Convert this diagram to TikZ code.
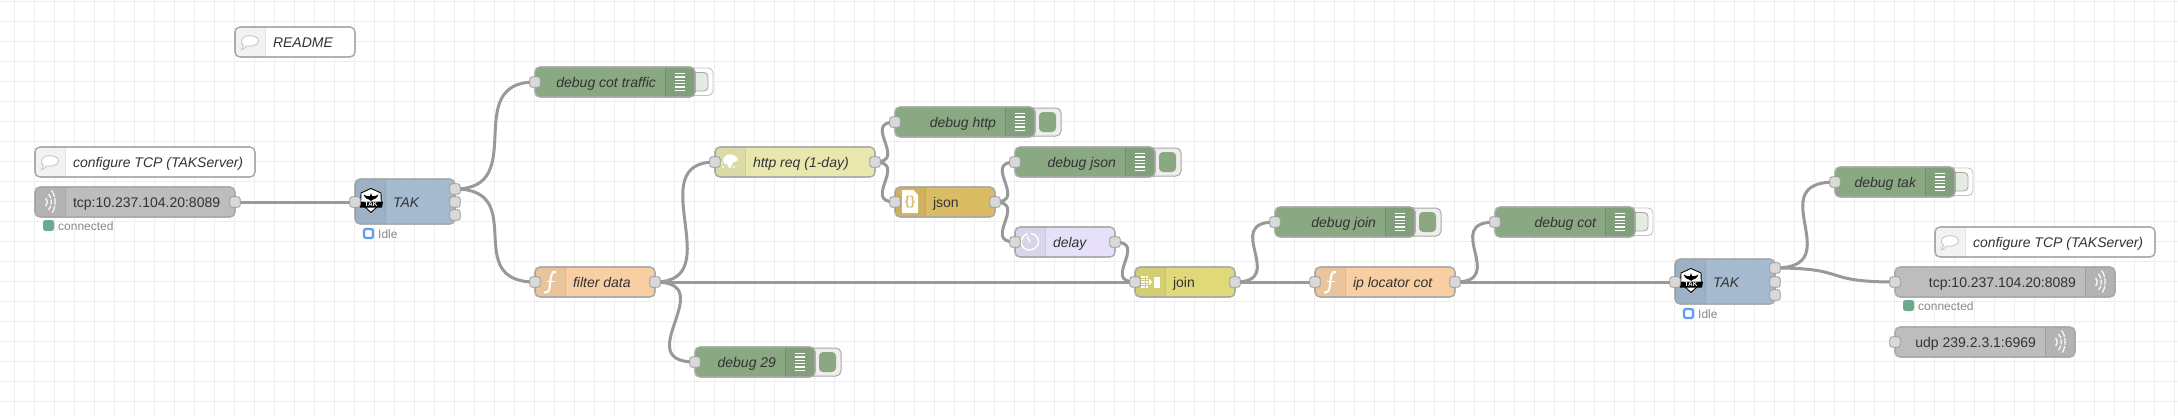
\documentclass[tikz,border=0pt]{standalone}
\usepackage{fontspec}
\setmainfont{Liberation Sans}
\definecolor{gridc}{HTML}{EEEEEE}
\definecolor{wirec}{HTML}{999999}
\definecolor{edgec}{HTML}{A8A8A8}
\definecolor{portc}{HTML}{D9D9D9}
\definecolor{txt}{HTML}{333333}
\definecolor{stat}{HTML}{888888}
\definecolor{dbg}{HTML}{8AA882}
\definecolor{func}{HTML}{F7CFA3}
\definecolor{cmt}{HTML}{FFFFFF}
\definecolor{tcp}{HTML}{BDBDBD}
\definecolor{tak}{HTML}{A6BBCF}
\definecolor{http}{HTML}{E7E7AE}
\definecolor{jsn}{HTML}{DABC64}
\definecolor{dly}{HTML}{E6E0F8}
\definecolor{jn}{HTML}{DFD97A}
\definecolor{okc}{HTML}{6BAB8C}
\definecolor{idlec}{HTML}{5B9DF2}
\definecolor{btnlight}{HTML}{E4EBE0}
\pgfdeclarelayer{gridlayer}
\pgfdeclarelayer{wires}
\pgfsetlayers{gridlayer,wires,main}
\tikzset{
  flowbox/.style={draw=edgec,line width=1.1pt,rounded corners=5pt,inner sep=0pt,outer sep=0pt},
  port/.style={draw=wirec,line width=0.8pt,fill=portc,rounded corners=2.5pt,minimum size=10.5pt,inner sep=0pt,outer sep=0pt},
  wirestyle/.style={draw=wirec,line width=3pt,line cap=round},
  lbl/.style={font=\fontsize{14}{16}\selectfont,text=txt,inner sep=0pt,outer sep=0pt},
  ital/.style={font=\fontsize{14}{16}\selectfont\itshape},
  statlbl/.style={font=\fontsize{12}{14}\selectfont,text=stat,inner sep=0pt,anchor=base west},
  okdot/.style={fill=okc,rounded corners=2.5pt,minimum size=11pt,inner sep=0pt},
  idledot/.style={draw=idlec,line width=2.2pt,fill=white,rounded corners=2pt,minimum size=9pt,inner sep=0pt},
  iconw/.style={draw=white,line width=1.5pt},
}
% name x0 y0 x1 y1 stripstart stripend fill
\newcommand\flownode[8]{%
  \pgfmathsetmacro\fnw{#4-#2}\pgfmathsetmacro\fnh{#5-#3}%
  \pgfmathsetmacro\fnx{(#2+#4)/2}\pgfmathsetmacro\fny{(#3+#5)/2}%
  \node[flowbox,fill=#8,minimum width=\fnw pt,minimum height=\fnh pt] (#1) at (\fnx,\fny) {};
  \begin{scope}
    \clip[rounded corners=5pt] (#2,#3) rectangle (#4,#5);
    \fill[black,opacity=.05] (#6,#3) rectangle (#7,#5);
    \draw[black,opacity=.10,line width=1pt] (#6,#3) -- (#6,#5) (#7,#3) -- (#7,#5);
  \end{scope}
  \draw[edgec,line width=1.1pt,rounded corners=5pt] (#2,#3) rectangle (#4,#5);
}
\newcommand\btnon[3]{% name x1 y0
  \pgfmathsetmacro\ba{#2-8}\pgfmathsetmacro\bb{#2+26}\pgfmathsetmacro\bc{#3+1}\pgfmathsetmacro\bd{#3+29}%
  \pgfmathsetmacro\be{#2+4}\pgfmathsetmacro\bf{#2+21}\pgfmathsetmacro\bg{#3+5}\pgfmathsetmacro\bh{#3+25}%
  \draw[draw=edgec,fill=gridc,line width=1pt,rounded corners=5pt] (\ba,\bc) rectangle (\bb,\bd);
  \fill[dbg,rounded corners=4pt] (\be,\bg) rectangle (\bf,\bh);
}
\newcommand\btnoff[3]{%
  \pgfmathsetmacro\ba{#2-8}\pgfmathsetmacro\bb{#2+18}\pgfmathsetmacro\bc{#3+1}\pgfmathsetmacro\bd{#3+28.5}%
  \pgfmathsetmacro\bf{#2+13}\pgfmathsetmacro\bg{#3+5.5}\pgfmathsetmacro\bh{#3+24}%
  \draw[draw=edgec!70,fill=white,line width=.9pt,rounded corners=5pt] (\ba,\bc) rectangle (\bb,\bd);
  \draw[draw=edgec,fill=btnlight,line width=.9pt,rounded corners=4pt] (\ba,\bg) rectangle (\bf,\bh);
}
\newcommand\wire[3]{\begin{pgfonlayer}{wires}\draw[wirestyle] (#1.center) .. controls +(#3,0) and +(-#3,0) .. (#2.center);\end{pgfonlayer}}
\newcommand\lines[2]{\begin{scope}[shift={(#1,#2)}]
  \foreach \ly in {-8.5,-5.1,-1.7,1.7,5.1,8.5} \draw[white,line width=1.4pt] (-5,\ly) -- (5,\ly);
\end{scope}}
\newcommand\bubble[2]{\begin{scope}[shift={(#1,#2)}]
  \draw[draw=black!22,fill=white,line width=.9pt] (-8.5,-1) .. controls (-8.5,-8) and (8.5,-8) .. (8.5,-1) .. controls (8.5,3.5) and (0,5) .. (-3.5,4) .. controls (-5,6) and (-7,7.5) .. (-8.5,8) .. controls (-7.5,6.5) and (-7,5) .. (-6.5,3.2) .. controls (-7.8,2.5) and (-8.5,1) .. (-8.5,-1) -- cycle;
\end{scope}}
\newcommand\wifi[2]{\begin{scope}[shift={(#1,#2)}]
  \draw[white,line width=1.3pt,opacity=.9,dash pattern=on 7pt off 1.2pt] (1.5,-11.5) .. controls (6.3,-6) and (6.3,6) .. (1.5,11.5);
  \draw[white,line width=1.3pt,opacity=.9,dash pattern=on 5pt off 1.2pt] (-1.5,-8) .. controls (2.3,-4) and (2.3,4) .. (-1.5,8);
  \draw[white,line width=1.3pt,opacity=.9] (-4.5,-4) .. controls (-2.3,-2) and (-2.3,2) .. (-4.5,4);
\end{scope}}
\newcommand\ficon[2]{\begin{scope}[shift={(#1,#2)}]
  \draw[white,line width=2pt] (6,-10) .. controls (1.5,-11.5) and (1,-6) .. (0.3,0) .. controls (-0.3,5) and (0,11.5) .. (-6,10.5);
  \draw[white,line width=1.6pt] (-3.5,-0.5) -- (4.5,-0.5);
\end{scope}}
\newcommand\takicon[2]{\begin{scope}[shift={(#1,#2)}]
  \draw[draw=black,fill=white,line width=.9pt,line join=round] (0,-12.5) -- (10,-8) -- (10.3,2) -- (0,11.5) -- (-10.3,2) -- (-10,-8) -- cycle;
  \fill[black] (-7.5,-6.5) .. controls (-4,-4.5) and (-2,-4.5) .. (-1,-5) -- (0,-8) -- (1,-5) .. controls (2,-4.5) and (4,-4.5) .. (7.5,-6.5) .. controls (6,-2.5) and (3,-1.5) .. (1,-1) -- (0,0) -- (-1,-1) .. controls (-3,-1.5) and (-6,-2.5) .. (-7.5,-6.5) -- cycle;
  \fill[black] (-12,0.5) -- (12,0.5) -- (11,6.5) -- (-11,6.5) -- cycle;
  \node[text=white,inner sep=0pt,font=\fontsize{6.5}{7}\selectfont\bfseries] (takname#1) at (0,3.5) {TAK};
\end{scope}}
\newcommand\globe[2]{\begin{scope}[shift={(#1,#2)}]
  \fill[white] (-3,-7) .. controls (2,-9) and (7,-6) .. (8,-2) .. controls (6,-1.5) and (5,1) .. (3,0.5) .. controls (2.5,3) and (0,7) .. (-1,6) .. controls (-1.5,3) and (-3,1.5) .. (-6,1) .. controls (-8,-2) and (-6,-5.5) .. (-3,-7) -- cycle;
  \fill[white] (-9,1.5) circle (1) (-7,5) circle (1.2) (4,5) circle (1.2);
\end{scope}}
\newcommand\jsonicon[2]{\begin{scope}[shift={(#1,#2)}]
  \fill[white] (-8,-12) -- (3.5,-12) -- (8,-7) -- (8,11) -- (-8,11) -- cycle;
  \node[text=jsn,inner sep=0pt,font=\fontsize{13}{14}\selectfont\bfseries] (jsonbraces) at (0,0) {\{\}};
\end{scope}}
\newcommand\clockicon[2]{\begin{scope}[shift={(#1,#2)}]
  \draw[white,line width=1.4pt] (-2.5,-8.2) .. controls (-9,-6.5) and (-11,2) .. (-6,6.2) .. controls (-1,10.5) and (8.5,7) .. (8.5,-0.3) .. controls (8.5,-4.5) and (5.5,-8) .. (1,-8.5);
  \draw[white,line width=1.4pt] (0,0) -- (-3,-5.5);
\end{scope}}
\newcommand\joinicon[2]{\begin{scope}[shift={(#1,#2)}]
  \foreach \dx in {-8.3,-5.8,-3.3} \foreach \dy in {-5,-2.5,0,2.5,5} \fill[white] (\dx-0.8,\dy-0.8) rectangle (\dx+0.8,\dy+0.8);
  \fill[white] (-1,-3.5) -- (2.2,0) -- (-1,3.5) -- cycle;
  \fill[white] (4,-5.5) rectangle (10,5.5);
\end{scope}}
\begin{document}
\begin{tikzpicture}[x=1pt,y=-1pt]
\useasboundingbox (0,0) rectangle (2178,416);
\begin{pgfonlayer}{gridlayer}
  \fill[white] (0,0) rectangle (2178,416);
  \foreach \gx in {0,...,108} \draw[gridc,line width=1pt] ({14+20*\gx},0) -- ({14+20*\gx},416);
  \foreach \gy in {0,...,20} \draw[gridc,line width=1pt] (0,{1.7+20*\gy}) -- (2178,{1.7+20*\gy});
\end{pgfonlayer}

% comments
\flownode{readme}{235}{27}{355}{57}{235}{265}{cmt}
\bubble{250}{42}
\node[lbl,ital,anchor=base west] (readmet) at (273,47) {README};
\flownode{cfga}{35}{147}{255}{177}{35}{65}{cmt}
\bubble{50}{162}
\node[lbl,ital,anchor=base west] (cfgat) at (73,167) {configure TCP (TAKServer)};
\flownode{cfgb}{1935}{227}{2155}{257}{1935}{1965}{cmt}
\bubble{1950}{242}
\node[lbl,ital,anchor=base west] (cfgbt) at (1973,247) {configure TCP (TAKServer)};

% tcp in
\flownode{tcpa}{35}{187}{235}{217}{35}{65}{tcp}
\wifi{50}{202}
\node[lbl,anchor=base west] (tcpat) at (73,207) {tcp:10.237.104.20:8089};
\node[okdot] (tcpas) at (48.5,225.5) {};
\node[statlbl] (tcpast) at (58,230) {connected};

% TAK 1
\flownode{taka}{355}{179}{455}{224}{355}{385}{tak}
\takicon{371}{201}
\node[lbl,ital,anchor=base west] (takat) at (393,207) {TAK};
\node[idledot] (takas) at (368.5,233.5) {};
\node[statlbl] (takast) at (378,238) {Idle};

% debug cot traffic
\btnoff{dba}{695}{67}
\flownode{dbcot}{535}{67}{695}{97}{665}{695}{dbg}
\lines{680}{82}
\node[lbl,ital,anchor=base east] (dbcott) at (656,87) {debug cot traffic};

% filter
\flownode{filter}{535}{267}{655}{297}{535}{565}{func}
\ficon{550}{282}
\node[lbl,ital,anchor=base west] (filtert) at (573,287) {filter data};

% http
\flownode{httpr}{715}{147}{875}{177}{715}{745}{http}
\globe{730}{162}
\node[lbl,ital,anchor=base west] (httprt) at (753,167) {http req (1-day)};

% debug http
\btnon{dbb}{1035}{107}
\flownode{dbhttp}{895}{107}{1035}{137}{1005}{1035}{dbg}
\lines{1020}{122}
\node[lbl,ital,anchor=base east] (dbhttpt) at (996,127) {debug http};

% json
\flownode{jsonn}{895}{187}{995}{217}{895}{925}{jsn}
\jsonicon{910}{202}
\node[lbl,anchor=base west] (jsonnt) at (933,207) {json};

% debug 29
\btnon{dbc}{815}{347}
\flownode{db29}{695}{347}{815}{377}{785}{815}{dbg}
\lines{800}{362}
\node[lbl,ital,anchor=base east] (db29t) at (776,367) {debug 29};

% debug json
\btnon{dbd}{1155}{147}
\flownode{dbjson}{1015}{147}{1155}{177}{1125}{1155}{dbg}
\lines{1140}{162}
\node[lbl,ital,anchor=base east] (dbjsont) at (1116,167) {debug json};

% delay
\flownode{delay}{1015}{227}{1115}{257}{1015}{1045}{dly}
\clockicon{1030}{242}
\node[lbl,ital,anchor=base west] (delayt) at (1053,247) {delay};

% join
\flownode{joinn}{1135}{267}{1235}{297}{1135}{1165}{jn}
\joinicon{1150}{282}
\node[lbl,anchor=base west] (joinnt) at (1173,287) {join};

% debug join
\btnon{dbe}{1415}{207}
\flownode{dbjoin}{1275}{207}{1415}{237}{1385}{1415}{dbg}
\lines{1400}{222}
\node[lbl,ital,anchor=base east] (dbjoint) at (1376,227) {debug join};

% ip locator
\flownode{iploc}{1315}{267}{1455}{297}{1315}{1345}{func}
\ficon{1330}{282}
\node[lbl,ital,anchor=base west] (iploct) at (1353,287) {ip locator cot};

% debug cot
\btnoff{dbf}{1635}{207}
\flownode{dbcotb}{1495}{207}{1635}{237}{1605}{1635}{dbg}
\lines{1620}{222}
\node[lbl,ital,anchor=base east] (dbcotbt) at (1596,227) {debug cot};

% TAK 2
\flownode{takb}{1675}{259}{1775}{304}{1675}{1705}{tak}
\takicon{1691}{281}
\node[lbl,ital,anchor=base west] (takbt) at (1713,287) {TAK};
\node[idledot] (takbs) at (1688.5,313.5) {};
\node[statlbl] (takbst) at (1698,318) {Idle};

% debug tak
\btnoff{dbg}{1955}{167}
\flownode{dbtak}{1835}{167}{1955}{197}{1925}{1955}{dbg}
\lines{1940}{182}
\node[lbl,ital,anchor=base east] (dbtakt) at (1916,187) {debug tak};

% tcp out
\flownode{tcpb}{1895}{267}{2115}{297}{2085}{2115}{tcp}
\wifi{2100}{282}
\node[lbl,anchor=base east] (tcpbt) at (2076,287) {tcp:10.237.104.20:8089};
\node[okdot] (tcpbs) at (1908.5,305.5) {};
\node[statlbl] (tcpbst) at (1918,310) {connected};

% udp out
\flownode{udp}{1895}{327}{2075}{357}{2045}{2075}{tcp}
\wifi{2060}{342}
\node[lbl,anchor=base east] (udpt) at (2036,347) {udp 239.2.3.1:6969};

% ports
\node[port] (pTcpaO) at (235,202) {};
\node[port] (pTakaI) at (355,202) {};
\node[port] (pTakaA) at (455,189) {};
\node[port] (pTakaB) at (455,202) {};
\node[port] (pTakaC) at (455,215) {};
\node[port] (pDbcot) at (535,82) {};
\node[port] (pFiltI) at (535,282) {};
\node[port] (pFiltO) at (655,282) {};
\node[port] (pHttpI) at (715,162) {};
\node[port] (pHttpO) at (875,162) {};
\node[port] (pDb29) at (695,362) {};
\node[port] (pDbhttp) at (895,122) {};
\node[port] (pJsonI) at (895,202) {};
\node[port] (pJsonO) at (995,202) {};
\node[port] (pDbjson) at (1015,162) {};
\node[port] (pDelayI) at (1015,242) {};
\node[port] (pDelayO) at (1115,242) {};
\node[port] (pJoinI) at (1135,282) {};
\node[port] (pJoinO) at (1235,282) {};
\node[port] (pDbjoin) at (1275,222) {};
\node[port] (pIpI) at (1315,282) {};
\node[port] (pIpO) at (1455,282) {};
\node[port] (pDbcotb) at (1495,222) {};
\node[port] (pTakbI) at (1675,282) {};
\node[port] (pTakbA) at (1775,268) {};
\node[port] (pTakbB) at (1775,282) {};
\node[port] (pTakbC) at (1775,295) {};
\node[port] (pDbtak) at (1835,182) {};
\node[port] (pTcpbI) at (1895,282) {};
\node[port] (pUdpI) at (1895,342) {};

% wires
\wire{pTcpaO}{pTakaI}{75}
\wire{pTakaA}{pDbcot}{75}
\wire{pTakaA}{pFiltI}{75}
\wire{pFiltO}{pHttpI}{75}
\wire{pFiltO}{pDb29}{67}
\wire{pFiltO}{pJoinI}{75}
\wire{pHttpO}{pDbhttp}{33.5}
\wire{pHttpO}{pJsonI}{33.5}
\wire{pJsonO}{pDbjson}{33.5}
\wire{pJsonO}{pDelayI}{33.5}
\wire{pDelayO}{pJoinI}{33.5}
\wire{pJoinO}{pDbjoin}{54}
\wire{pJoinO}{pIpI}{30}
\wire{pIpO}{pDbcotb}{54}
\wire{pIpO}{pTakbI}{75}
\wire{pTakbA}{pDbtak}{75}
\wire{pTakbA}{pTcpbI}{75}
\end{tikzpicture}
\end{document}
